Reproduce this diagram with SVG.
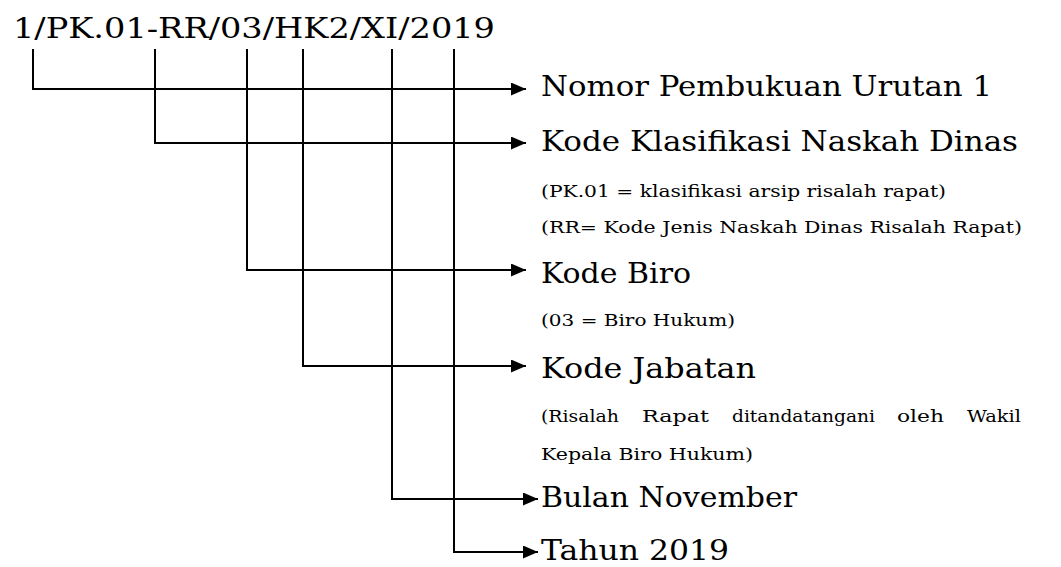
<svg xmlns="http://www.w3.org/2000/svg" width="1061" height="567" viewBox="0 0 1061 567">
  <style>
    .big { font-family: "DejaVu Serif", serif; font-size: 28px; fill: #000; }
    .small { font-family: "DejaVu Serif", serif; font-size: 17px; fill: #000; }
    .conn { fill: none; stroke: #000; stroke-width: 2; }
  </style>
  <defs>
    <marker id="arrow" markerUnits="userSpaceOnUse" markerWidth="15" markerHeight="13" refX="15" refY="6.5" orient="auto">
      <path d="M0,0 L15,6.5 L0,13 z" fill="#000"/>
    </marker>
  </defs>
  <rect width="1061" height="567" fill="#fff"/>

  <g id="code">
    <text class="big" x="13" y="38" textLength="482" lengthAdjust="spacingAndGlyphs">1/PK.01-RR/03/HK2/XI/2019</text>
  </g>

  <g id="connectors">
    <path class="conn" d="M33,49 V89 H526" marker-end="url(#arrow)"/>
    <path class="conn" d="M155,49 V143 H526" marker-end="url(#arrow)"/>
    <path class="conn" d="M247,49 V270 H526" marker-end="url(#arrow)"/>
    <path class="conn" d="M303,49 V366 H526" marker-end="url(#arrow)"/>
    <path class="conn" d="M392,49 V499 H538" marker-end="url(#arrow)"/>
    <path class="conn" d="M454,49 V552 H538" marker-end="url(#arrow)"/>
  </g>

  <g id="node-nomor">
    <text class="big" x="541" y="96" textLength="451" lengthAdjust="spacingAndGlyphs">Nomor Pembukuan Urutan 1</text>
  </g>
  <g id="node-klasifikasi">
    <text class="big" x="541" y="151" textLength="477" lengthAdjust="spacingAndGlyphs">Kode Klasifikasi Naskah Dinas</text>
    <text class="small" x="541" y="197" textLength="405" lengthAdjust="spacingAndGlyphs">(PK.01 = klasifikasi arsip risalah rapat)</text>
    <text class="small" x="541" y="233" textLength="481" lengthAdjust="spacingAndGlyphs">(RR= Kode Jenis Naskah Dinas Risalah Rapat)</text>
  </g>
  <g id="node-biro">
    <text class="big" x="541" y="283" textLength="150" lengthAdjust="spacingAndGlyphs">Kode Biro</text>
    <text class="small" x="541" y="326" textLength="194" lengthAdjust="spacingAndGlyphs">(03 = Biro Hukum)</text>
  </g>
  <g id="node-jabatan">
    <text class="big" x="541" y="378" textLength="215" lengthAdjust="spacingAndGlyphs">Kode Jabatan</text>
    <text class="small" x="541" y="422" textLength="78" lengthAdjust="spacingAndGlyphs">(Risalah</text>
    <text class="small" x="642" y="422" textLength="67" lengthAdjust="spacingAndGlyphs">Rapat</text>
    <text class="small" x="732" y="422" textLength="143" lengthAdjust="spacingAndGlyphs">ditandatangani</text>
    <text class="small" x="897" y="422" textLength="47" lengthAdjust="spacingAndGlyphs">oleh</text>
    <text class="small" x="967" y="422" textLength="54" lengthAdjust="spacingAndGlyphs">Wakil</text>
    <text class="small" x="541" y="460" textLength="212" lengthAdjust="spacingAndGlyphs">Kepala Biro Hukum)</text>
  </g>
  <g id="node-bulan">
    <text class="big" x="541" y="507" textLength="256" lengthAdjust="spacingAndGlyphs">Bulan November</text>
  </g>
  <g id="node-tahun">
    <text class="big" x="541" y="560" textLength="188" lengthAdjust="spacingAndGlyphs">Tahun 2019</text>
  </g>
</svg>
